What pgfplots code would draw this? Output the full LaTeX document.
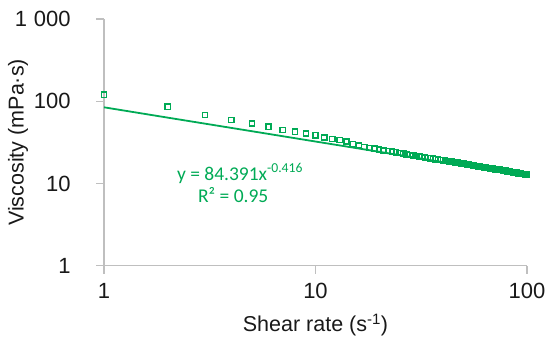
\documentclass[border=0pt]{standalone}
\usepackage{pgfplots}
\pgfplotsset{compat=1.18}
\usepackage{fontspec}
\setmainfont{Liberation Sans}
\newfontfamily\carlito{Carlito}
\definecolor{xlgreen}{RGB}{0,170,85}
\definecolor{axgray}{RGB}{191,191,191}
\begin{document}
\begin{tikzpicture}
\path[use as bounding box] (-104bp,-82.3bp) rectangle (446bp,265.7bp);
\begin{axis}[
  at={(0,0)}, anchor=south west,
  scale only axis, width=423bp, height=246.7bp,
  xmode=log, ymode=log,
  xmin=1, xmax=100, ymin=1, ymax=1000,
  axis x line*=bottom, axis y line*=left,
  axis line style={-, draw=axgray, line width=1.3bp},
  xtick={1,10,100}, xticklabels={1,10,100},
  ytick={1,10,100,1000}, yticklabels={1,10,100,1\kern0.3em000},
  minor tick length=0pt,
  major tick length=8bp,
  tick align=outside,
  tick style={draw=axgray, line width=1.3bp},
  ticklabel style={font=\fontsize{22bp}{24bp}\selectfont, text=black!90},
  yticklabel style={anchor=east, xshift=-22bp},
  xticklabel style={yshift=-6bp},
  every axis y label/.style={at={(axis description cs:-0.203,0.5)}, rotate=90, anchor=center,
     font=\fontsize{21.5bp}{24bp}\selectfont, text=black!90},
  every axis x label/.style={at={(axis description cs:0.5,-0.240)}, anchor=center,
     font=\fontsize{21.5bp}{24bp}\selectfont, text=black!90},
  ylabel={Viscosity (mPa·s)},
  xlabel={Shear rate (s\textsuperscript{-1})},
  clip=false,
]
% power trend line
\addplot[xlgreen, line width=1.8bp, no marks] coordinates {
(1,84.39) (2,63.2) (5,43.2) (10,32.37) (20,24.28) (50,16.58) (100,12.42)
};
% measured data
\addplot[xlgreen, only marks, mark=square, mark size=2.6bp, mark options={line width=1.4bp, fill=none}] coordinates {
(1,120) (2,86) (3,68) (4,59) (5,53.6) (6,48.9) (7,44.5) (8,42.5) (9,40.5) (10,38.5)
(11,36.2) (12,34.9) (13,33.9) (14,32.4) (15,30.3) (16,28.9) (17,27.7) (18,27.0) (19,26.4) (20,25.8)
(21,25.2) (22,24.7) (23,24.3) (24,23.9) (25,23.4) (26,23.1) (27,22.6) (28,22.3) (29,21.9) (30,21.6)
(31,21.2) (32,21.0) (33,20.7) (34,20.4) (35,20.2) (36,20.0) (37,19.7) (38,19.5) (39,19.3) (40,19.1)
(41,18.9) (42,18.7) (43,18.5) (44,18.4) (45,18.2) (46,18.0) (47,17.9) (48,17.7) (49,17.6) (50,17.4)
(51,17.2) (52,17.0) (53,16.9) (54,16.8) (55,16.7) (56,16.5) (57,16.4) (58,16.3) (59,16.2) (60,16.1)
(61,15.9) (62,15.8) (63,15.7) (64,15.6) (65,15.5) (66,15.4) (67,15.3) (68,15.2) (69,15.1) (70,15.0)
(71,14.9) (72,14.8) (73,14.7) (74,14.7) (75,14.6) (76,14.5) (77,14.4) (78,14.3) (79,14.3) (80,14.2)
(81,14.0) (82,14.0) (83,13.9) (84,13.8) (85,13.8) (86,13.7) (87,13.6) (88,13.6) (89,13.5) (90,13.4)
(91,13.3) (92,13.3) (93,13.2) (94,13.1) (95,13.1) (96,13.0) (97,13.0) (98,12.9) (99,12.9) (100,12.8)
};
\node[anchor=base west, inner sep=0pt, text=xlgreen, font=\carlito\fontsize{19.5bp}{22bp}\selectfont]
  at (axis cs:2.21,11.0) {y = 84.391x\textsuperscript{-0.416}};
\node[anchor=base west, inner sep=0pt, text=xlgreen, font=\carlito\fontsize{19.5bp}{22bp}\selectfont]
  at (axis cs:2.78,5.79) {R² = 0.95};
\end{axis}
\end{tikzpicture}
\end{document}
